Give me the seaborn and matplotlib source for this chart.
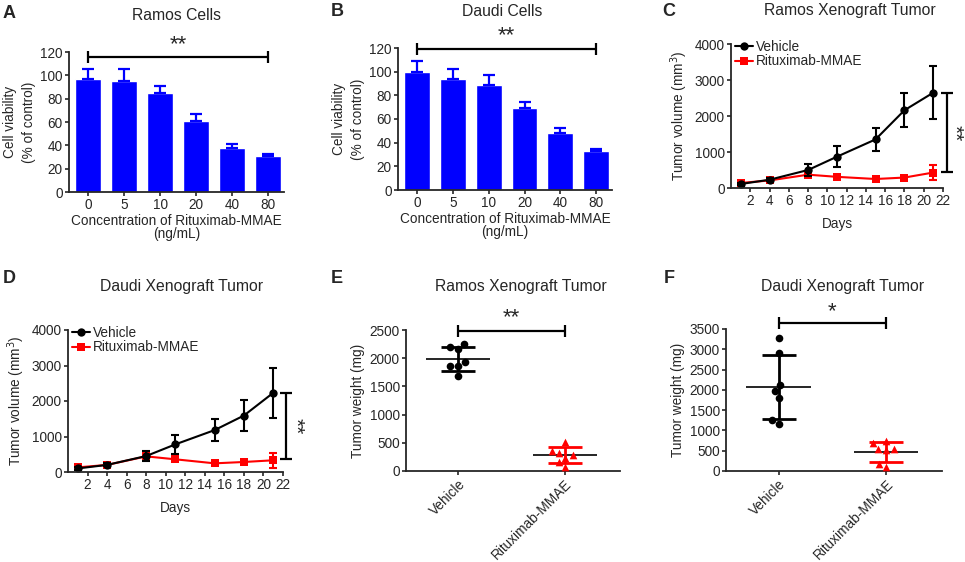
import numpy as np
import matplotlib
matplotlib.use("Agg")
import matplotlib.pyplot as plt
import seaborn as sns

# A / B: cell viability (% of control)
conc = ["0", "5", "10", "20", "40", "80"]
ramos_via = [97, 95, 85, 61, 38, 31]
ramos_via_sd = [8, 10, 6, 6, 3, 1.5]
daudi_via = [100, 94, 89, 69, 48, 33]
daudi_via_sd = [9, 8, 8, 5, 4, 1.5]

# C / D: tumor volume (mm3)
days = [1, 4, 8, 11, 15, 18, 21]
ramos_veh = [110, 230, 500, 870, 1350, 2160, 2650]
ramos_veh_sd = [40, 40, 160, 290, 315, 470, 745]
ramos_rit = [140, 210, 370, 310, 250, 290, 430]
ramos_rit_sd = [40, 30, 40, 30, 30, 30, 220]
daudi_veh = [100, 200, 450, 780, 1180, 1590, 2230]
daudi_veh_sd = [40, 40, 150, 260, 305, 430, 695]
daudi_rit = [130, 200, 440, 357, 244, 282, 330]
daudi_rit_sd = [40, 30, 40, 30, 30, 30, 215]

# E / F: tumor weight (mg)
groups = ["Vehicle", "Rituximab-MMAE"]
ramos_wt_veh = [2252, 2163, 2199, 1862, 1862, 1933, 1684]
ramos_wt_rit = [514, 355, 284, 319, 230, 160, 71]
daudi_wt_veh = [3278, 2908, 2120, 1972, 1799, 1257, 1158]
daudi_wt_rit = [690, 739, 542, 518, 542, 99, 173]

sns.set_style("ticks")
plt.rcParams["font.family"] = ["Liberation Sans", "DejaVu Sans"]
plt.rcParams["font.size"] = 9.8
plt.rcParams["axes.linewidth"] = 1.3
plt.rcParams["xtick.major.width"] = 1.2
plt.rcParams["ytick.major.width"] = 1.2
plt.rcParams["xtick.major.size"] = 3
plt.rcParams["ytick.major.size"] = 3
plt.rcParams["xtick.major.pad"] = 1.5
plt.rcParams["ytick.major.pad"] = 1.5
plt.rcParams["xtick.labelsize"] = 9.8
plt.rcParams["ytick.labelsize"] = 9.8

W, H = 965, 562
fig = plt.figure(figsize=(W / 100, H / 100), dpi=100)


def box(l, r, t, b):
    return [l / W, 1 - b / H, (r - l) / W, (b - t) / H]


def ftext(x, y, s, **kw):
    fig.text(x / W, 1 - y / H, s, ha="center", va="center", **kw)


def bar_panel(rect, vals, sd, star_bar, star_txt):
    ax = fig.add_axes(rect)
    sns.barplot(x=conc, y=vals, order=conc, color="#0000ff", saturation=1,
                width=0.72, errorbar=None, ax=ax)
    ax.errorbar(range(len(conc)), vals, yerr=[np.zeros(len(sd)), sd], fmt="none",
                ecolor="#0000ff", elinewidth=1.6, capsize=4.5, capthick=1.6)
    ax.errorbar(2.5, star_bar, xerr=2.5, fmt="none", ecolor="black",
                elinewidth=1.6, capsize=4.5, capthick=1.6, clip_on=False)
    ax.text(2.5, star_txt, "**", ha="center", va="center", fontsize=16, clip_on=False)
    ax.set_xlim(-0.53, 5.44)
    ax.set_ylim(0, 120)
    ax.set_yticks(range(0, 121, 20))
    ax.set_xlabel("Concentration of Rituximab-MMAE\n(ng/mL)", labelpad=1, linespacing=0.95)
    ax.set_ylabel("Cell viability\n(% of control)", linespacing=1.5, labelpad=3)
    sns.despine(ax=ax)
    return ax


def line_panel(rect, veh, veh_sd, rit, rit_sd, bx, by0, by1, sx):
    ax = fig.add_axes(rect)
    sns.lineplot(x=days, y=rit, color="red", marker="s", markersize=5.5,
                 markeredgewidth=0, lw=1.5, label="Rituximab-MMAE", ax=ax)
    ax.errorbar(days, rit, yerr=rit_sd, fmt="none", ecolor="red",
                elinewidth=1.5, capsize=3, capthick=1.5)
    sns.lineplot(x=days, y=veh, color="black", marker="o", markersize=6,
                 markeredgewidth=0, lw=1.5, label="Vehicle", ax=ax)
    ax.errorbar(days, veh, yerr=veh_sd, fmt="none", ecolor="black",
                elinewidth=1.5, capsize=3, capthick=1.5)
    ax.errorbar(bx, (by0 + by1) / 2, yerr=(by1 - by0) / 2, fmt="none", ecolor="black",
                elinewidth=1.6, capsize=4.5, capthick=1.6, clip_on=False)
    ax.text(sx, (by0 + by1) / 2, "**", rotation=-90, ha="center", va="center",
            fontsize=15, clip_on=False)
    h, l = ax.get_legend_handles_labels()
    ax.legend(h[::-1], l[::-1], loc="upper left", bbox_to_anchor=(0.02, 1.03),
              frameon=False, handlelength=1.3, handletextpad=0.2, labelspacing=0.05,
              borderpad=0, borderaxespad=0, fontsize=9.8)
    ax.set_xlim(0, 22)
    ax.set_ylim(0, 4000)
    ax.set_xticks(range(2, 23, 2))
    ax.set_yticks(range(0, 4001, 1000))
    ax.set_xlabel("Days", labelpad=6)
    ax.set_ylabel("Tumor volume (mm$^3$)", labelpad=3)
    sns.despine(ax=ax)
    return ax


def dot_panel(rect, veh, rit, ymax, ystep, star_bar, star_txt, star):
    ax = fig.add_axes(rect)
    sns.swarmplot(x=["Vehicle"] * len(veh), y=veh, order=groups, color="black",
                  size=5.5, ax=ax)
    sns.swarmplot(x=["Rituximab-MMAE"] * len(rit), y=rit, order=groups, color="red",
                  marker="^", size=5.5, ax=ax)
    for i, (vals, c) in enumerate([(veh, "black"), (rit, "red")]):
        m = np.mean(vals)
        s = np.std(vals, ddof=1)
        ax.hlines(m, i - 0.3, i + 0.3, color="black", lw=1.2)
        ax.errorbar(i, m, yerr=s, fmt="none", ecolor=c, elinewidth=2,
                    capsize=12, capthick=2)
    ax.errorbar(0.5, star_bar, xerr=0.5, fmt="none", ecolor="black",
                elinewidth=1.6, capsize=4.5, capthick=1.6, clip_on=False)
    ax.text(0.5, star_txt, star, ha="center", va="center", fontsize=16, clip_on=False)
    ax.set_xlim(-0.49, 1.52)
    ax.set_ylim(0, ymax)
    ax.set_yticks(np.arange(0, ymax + 1, ystep))
    ax.set_xticks([0, 1])
    ax.set_xticklabels(groups, rotation=45, ha="right", rotation_mode="anchor")
    ax.set_xlabel("")
    ax.set_ylabel("Tumor weight (mg)", labelpad=3)
    sns.despine(ax=ax)
    return ax


bar_panel(box(69, 284, 52, 192), ramos_via, ramos_via_sd, 115.5, 126)
bar_panel(box(398, 612, 48, 190), daudi_via, daudi_via_sd, 119.5, 130.5)
line_panel(box(731, 943, 44, 188), ramos_veh, ramos_veh_sd, ramos_rit, ramos_rit_sd,
           22.4, 435, 2630, 23.2)
line_panel(box(68, 283, 330, 472), daudi_veh, daudi_veh_sd, daudi_rit, daudi_rit_sd,
           22.3, 357, 2235, 23.3)
dot_panel(box(406, 620, 330, 471), ramos_wt_veh, ramos_wt_rit, 2500, 500, 2482, 2720, "**")
dot_panel(box(726, 942, 329, 471), daudi_wt_veh, daudi_wt_rit, 3500, 500, 3648, 3930, "*")

# panel titles and letters
ftext(177, 15, "Ramos Cells", fontsize=11.3)
ftext(502, 11, "Daudi Cells", fontsize=11.3)
ftext(850, 11, "Ramos Xenograft Tumor", fontsize=11.3)
ftext(182, 286, "Daudi Xenograft Tumor", fontsize=11.3)
ftext(521, 287, "Ramos Xenograft Tumor", fontsize=11.3)
ftext(843, 287, "Daudi Xenograft Tumor", fontsize=11.3)
for x, y, s in [(9, 13, "A"), (337, 11, "B"), (669, 11, "C"),
                (9, 278, "D"), (337, 278, "E"), (669, 278, "F")]:
    ftext(x, y, s, fontsize=13, fontweight="bold")

fig.savefig("out.png", dpi=100)
